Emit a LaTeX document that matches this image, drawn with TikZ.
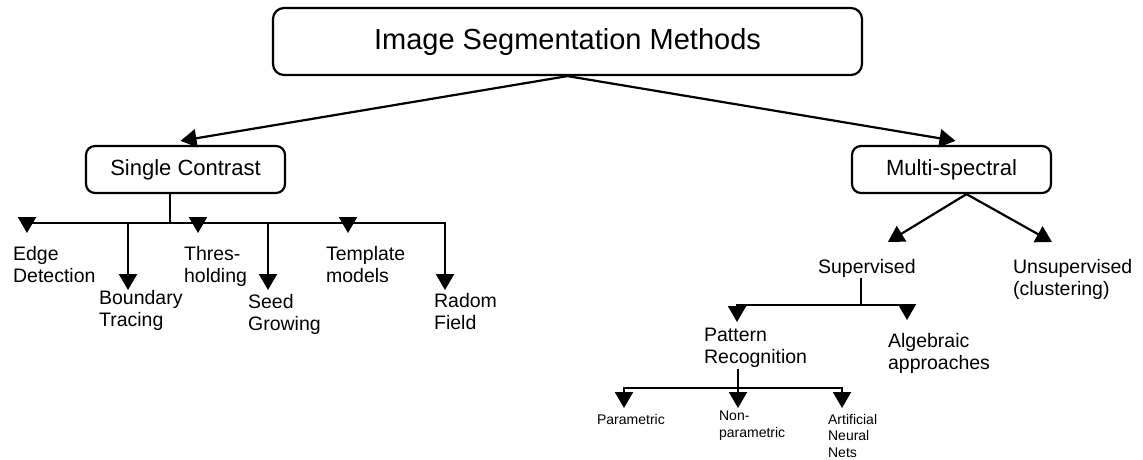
\documentclass[tikz,border=0pt]{standalone}
\usepackage{fontspec}
\setmainfont{Liberation Sans}
\usetikzlibrary{arrows.meta,positioning}

\begin{document}
\begin{tikzpicture}[x=1pt,y=-1pt,line width=2.2pt, box/.style={draw,rounded corners=9pt,minimum height=47pt,minimum width=199pt,font=\fontsize{22}{26}\selectfont}, leaf/.style={align=left,inner sep=0pt,anchor=north west,font=\fontsize{19.5}{22}\selectfont}, tiny/.style={align=left,inner sep=0pt,anchor=north west,font=\fontsize{14}{16.5}\selectfont}, arr/.style={-{Triangle[length=16pt,width=18pt]}}]
\useasboundingbox (0,0) rectangle (1143,459);
% top level
\node[box,minimum width=589pt,minimum height=67pt,rounded corners=11pt,font=\fontsize{29}{33}\selectfont] (ism) at (567.5,41.5) {Image Segmentation Methods};
\node[box] (sc) at (185.5,169.5) {Single Contrast};
\node[box] (ms) at (951.5,169.5) {Multi-spectral};
\draw[arr] (ism.south) -- ([xshift=-5pt,yshift=4pt]sc.north);
\draw[arr] (ism.south) -- ([xshift=4pt,yshift=4pt]ms.north);
% single contrast branch
\coordinate (scb) at (170,223);
\draw (sc.south -| scb) -- (scb);
\node[leaf] (edge) at (12,245) {Edge\\Detection};
\node[leaf] (bound) at (98,289) {Boundary\\Tracing};
\node[leaf] (thres) at (183,245) {Thres-\\holding};
\node[leaf] (seed) at (247,293) {Seed\\Growing};
\node[leaf] (templ) at (325,245) {Template\\models};
\node[leaf] (radom) at (433,292) {Radom\\Field};
\draw[arr] (scb) -| ([xshift=15pt,yshift=12pt]edge.north west);
\draw[arr] (scb) -| ([xshift=30pt,yshift=-1pt]bound.north west);
\draw[arr] (scb) -| ([xshift=15pt,yshift=12pt]thres.north west);
\draw[arr] (scb) -| ([xshift=21pt,yshift=3pt]seed.north west);
\draw[arr] (scb) -| ([xshift=23pt,yshift=12pt]templ.north west);
\draw[arr] (scb) -| ([xshift=12pt,yshift=2pt]radom.north west);
% multi-spectral branch
\node[leaf] (sup) at (817,258) {Supervised};
\node[leaf] (unsup) at (1012,258) {Unsupervised\\(clustering)};
\draw[arr] ([xshift=15pt]ms.south) -- ([xshift=21pt,yshift=16pt]sup.north);
\draw[arr] ([xshift=15pt]ms.south) -- ([xshift=40pt,yshift=16pt]unsup.north west);
\coordinate (supb) at (861,305);
\draw (sup.south -| supb) -- (supb);
\node[leaf] (pat) at (703,327) {Pattern\\Recognition};
\node[leaf] (alg) at (887,332) {Algebraic\\approaches};
\draw[arr] (supb) -| ([xshift=34pt,yshift=5pt]pat.north west);
\draw[arr] (supb) -| ([xshift=20pt,yshift=12pt]alg.north west);
\coordinate (patb) at (738,388);
\draw (pat.south -| patb) -- (patb);
\node[tiny] (para) at (596,413) {Parametric};
\node[tiny] (nonpara) at (718,410) {Non-\\parametric};
\node[tiny] (ann) at (827,413) {Artificial\\Neural\\Nets};
\draw[arr] (patb) -| ([xshift=28pt,yshift=5pt]para.north west);
\draw[arr] (patb) -| ([xshift=20pt,yshift=2pt]nonpara.north west);
\draw[arr] (patb) -| ([xshift=15pt,yshift=5pt]ann.north west);
\end{tikzpicture}
\end{document}
